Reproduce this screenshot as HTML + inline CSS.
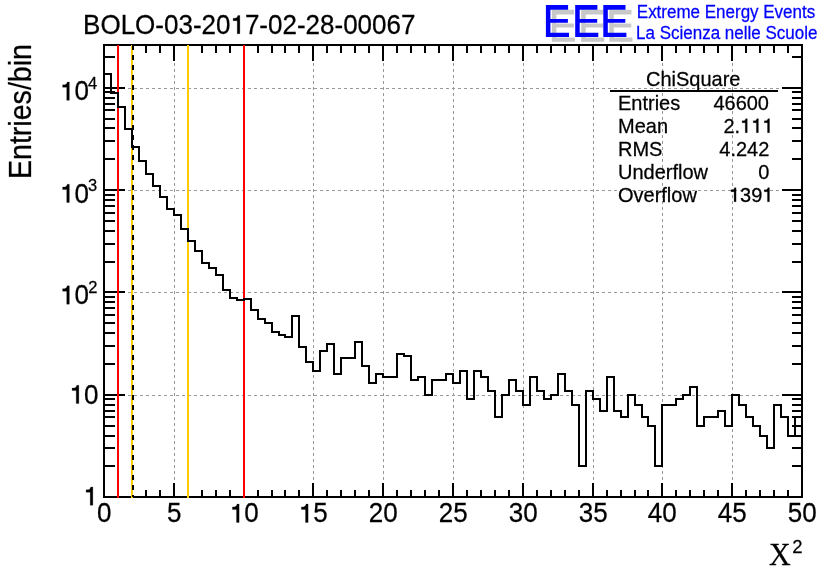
<!DOCTYPE html>
<html><head><meta charset="utf-8"><style>
html,body{margin:0;padding:0;background:#fff;width:836px;height:572px;overflow:hidden}
svg{display:block;will-change:transform}
text{font-family:"Liberation Sans",sans-serif;font-kerning:none;font-variant-ligatures:none;fill:#000;stroke:#000;stroke-width:0.25px;white-space:pre}
path.one{stroke:#000;stroke-width:0.25px;vector-effect:non-scaling-stroke}
</style></head><body>
<svg width="836" height="572" viewBox="0 0 836 572">
<rect width="836" height="572" fill="#fff"/>
<g stroke="#999" stroke-width="1" shape-rendering="crispEdges" stroke-dasharray="3 3"><line x1="174.5" y1="45" x2="174.5" y2="497"/><line x1="244.5" y1="45" x2="244.5" y2="497"/><line x1="313.5" y1="45" x2="313.5" y2="497"/><line x1="383.5" y1="45" x2="383.5" y2="497"/><line x1="453.5" y1="45" x2="453.5" y2="497"/><line x1="523.5" y1="45" x2="523.5" y2="497"/><line x1="593.5" y1="45" x2="593.5" y2="497"/><line x1="662.5" y1="45" x2="662.5" y2="497"/><line x1="732.5" y1="45" x2="732.5" y2="497"/><line x1="104" y1="395.5" x2="802" y2="395.5"/><line x1="104" y1="292.5" x2="802" y2="292.5"/><line x1="104" y1="190.5" x2="802" y2="190.5"/><line x1="104" y1="88.5" x2="802" y2="88.5"/></g>
<rect x="104" y="45" width="698" height="452" fill="none" stroke="#000" stroke-width="2" shape-rendering="crispEdges"/>
<path d="M104,497v-14M104,45v16M118,497v-7M118,45v8M132,497v-7M132,45v8M146,497v-7M146,45v8M160,497v-7M160,45v8M174,497v-14M174,45v16M188,497v-7M188,45v8M202,497v-7M202,45v8M216,497v-7M216,45v8M230,497v-7M230,45v8M244,497v-14M244,45v16M258,497v-7M258,45v8M272,497v-7M272,45v8M285,497v-7M285,45v8M299,497v-7M299,45v8M313,497v-14M313,45v16M327,497v-7M327,45v8M341,497v-7M341,45v8M355,497v-7M355,45v8M369,497v-7M369,45v8M383,497v-14M383,45v16M397,497v-7M397,45v8M411,497v-7M411,45v8M425,497v-7M425,45v8M439,497v-7M439,45v8M453,497v-14M453,45v16M467,497v-7M467,45v8M481,497v-7M481,45v8M495,497v-7M495,45v8M509,497v-7M509,45v8M523,497v-14M523,45v16M537,497v-7M537,45v8M551,497v-7M551,45v8M565,497v-7M565,45v8M579,497v-7M579,45v8M593,497v-14M593,45v16M607,497v-7M607,45v8M621,497v-7M621,45v8M635,497v-7M635,45v8M648,497v-7M648,45v8M662,497v-14M662,45v16M676,497v-7M676,45v8M690,497v-7M690,45v8M704,497v-7M704,45v8M718,497v-7M718,45v8M732,497v-14M732,45v16M746,497v-7M746,45v8M760,497v-7M760,45v8M774,497v-7M774,45v8M788,497v-7M788,45v8M802,497v-14M802,45v16M104,497h21M802,497h-20M104,466h11M802,466h-10M104,448h11M802,448h-10M104,436h11M802,436h-10M104,426h11M802,426h-10M104,417h11M802,417h-10M104,411h11M802,411h-10M104,405h11M802,405h-10M104,399h11M802,399h-10M104,395h21M802,395h-20M104,364h11M802,364h-10M104,346h11M802,346h-10M104,333h11M802,333h-10M104,323h11M802,323h-10M104,315h11M802,315h-10M104,308h11M802,308h-10M104,302h11M802,302h-10M104,297h11M802,297h-10M104,292h21M802,292h-20M104,262h11M802,262h-10M104,244h11M802,244h-10M104,231h11M802,231h-10M104,221h11M802,221h-10M104,213h11M802,213h-10M104,206h11M802,206h-10M104,200h11M802,200h-10M104,195h11M802,195h-10M104,190h21M802,190h-20M104,159h11M802,159h-10M104,141h11M802,141h-10M104,128h11M802,128h-10M104,119h11M802,119h-10M104,110h11M802,110h-10M104,104h11M802,104h-10M104,98h11M802,98h-10M104,92h11M802,92h-10M104,88h21M802,88h-20M104,57h11M802,57h-10" stroke="#000" stroke-width="2" fill="none" shape-rendering="crispEdges"/>
<g stroke-width="2" shape-rendering="crispEdges">
<line x1="118" y1="45" x2="118" y2="498" stroke="#f00"/>
<line x1="132" y1="45" x2="132" y2="498" stroke="#fc0"/>
<line x1="133" y1="45" x2="133" y2="497" stroke="#000" stroke-dasharray="5 5"/>
<line x1="188" y1="45" x2="188" y2="498" stroke="#fc0"/>
<line x1="244" y1="45" x2="244" y2="498" stroke="#f00"/>
</g>
<path d="M104,497 V74 H111 V93 H118 V107 H125 V129 H132 V147 H139 V161 H146 V174 H153 V186 H160 V197 H167 V209 H174 V215 H181 V229 H188 V241 H195 V251 H202 V263 H209 V268 H216 V275 H223 V290 H230 V298 H237 V300 H244 V299 H251 V310 H258 V319 H265 V323 H272 V332 H279 V335 H285 V337 H292 V316 H299 V347 H306 V362 H313 V371 H320 V351 H327 V344 H334 V374 H341 V358 H348 V358 H355 V342 H362 V366 H369 V383 H376 V374 H383 V377 H390 V377 H397 V354 H404 V356 H411 V380 H418 V377 H425 V395 H432 V380 H439 V380 H446 V374 H453 V383 H460 V371 H467 V399 H474 V371 H481 V377 H488 V391 H495 V417 H502 V395 H509 V380 H516 V391 H523 V405 H530 V377 H537 V391 H544 V399 H551 V395 H558 V374 H565 V391 H572 V405 H579 V466 H586 V391 H593 V399 H600 V411 H607 V377 H614 V411 H621 V417 H628 V395 H635 V405 H642 V417 H648 V426 H655 V466 H662 V405 H669 V405 H676 V399 H683 V395 H690 V387 H697 V426 H704 V417 H711 V417 H718 V411 H725 V426 H732 V395 H739 V405 H746 V417 H753 V426 H760 V436 H767 V448 H774 V405 H781 V417 H788 V436 H795 V417 H802 V497" stroke="#000" stroke-width="2" fill="none" shape-rendering="crispEdges"/>
<path fill="#c8c8c8" d="M551.9,9.8h22.2v4.7h-17.70V23.60h17.50V27.50h-17.50V37.40h18.60V41.70h-23.1z"/><path fill="#c8c8c8" d="M581.2,9.8h22.2v4.7h-17.70V23.60h17.50V27.50h-17.50V37.40h18.60V41.70h-23.1z"/><path fill="#c8c8c8" d="M609.3,9.8h22.2v4.7h-17.70V23.60h17.50V27.50h-17.50V37.40h18.60V41.70h-23.1z"/><path fill="#0000ff" d="M545.9,5.1h22.2v4.7h-17.70V18.90h17.50V22.80h-17.50V32.70h18.60V37.00h-23.1z"/><path fill="#0000ff" d="M575.2,5.1h22.2v4.7h-17.70V18.90h17.50V22.80h-17.50V32.70h18.60V37.00h-23.1z"/><path fill="#0000ff" d="M603.3,5.1h22.2v4.7h-17.70V18.90h17.50V22.80h-17.50V32.70h18.60V37.00h-23.1z"/>
<text transform="translate(83.10,33.70) scale(1,1.04)" font-size="26">BOLO-03-20 7-02-28-00067</text><path class="one" transform="translate(83.10,33.70) scale(1,1.04) translate(147.41,0) scale(0.0260,-0.0250)" d="M359,703V0H259V500H101V596H180C228,606 268,640 283,703Z"/><text transform="translate(31.00,179.10) rotate(-90) scale(1,1.075)" font-size="28.6">Entries/bin</text><text transform="translate(97.02,522.40) scale(1,1.04)" font-size="26">0</text><text transform="translate(167.02,522.40) scale(1,1.04)" font-size="26">5</text><text transform="translate(229.79,522.40) scale(1,1.04)" font-size="26"> 0</text><path class="one" transform="translate(229.79,522.40) scale(1,1.04) translate(0.00,0) scale(0.0260,-0.0250)" d="M359,703V0H259V500H101V596H180C228,606 268,640 283,703Z"/><text transform="translate(298.79,522.40) scale(1,1.04)" font-size="26"> 5</text><path class="one" transform="translate(298.79,522.40) scale(1,1.04) translate(0.00,0) scale(0.0260,-0.0250)" d="M359,703V0H259V500H101V596H180C228,606 268,640 283,703Z"/><text transform="translate(368.79,522.40) scale(1,1.04)" font-size="26">20</text><text transform="translate(438.79,522.40) scale(1,1.04)" font-size="26">25</text><text transform="translate(508.79,522.40) scale(1,1.04)" font-size="26">30</text><text transform="translate(578.79,522.40) scale(1,1.04)" font-size="26">35</text><text transform="translate(647.79,522.40) scale(1,1.04)" font-size="26">40</text><text transform="translate(717.79,522.40) scale(1,1.04)" font-size="26">45</text><text transform="translate(787.79,522.40) scale(1,1.04)" font-size="26">50</text><text transform="translate(60.00,100.35) scale(1,1.04)" font-size="26"> 0</text><path class="one" transform="translate(60.00,100.35) scale(1,1.04) translate(0.00,0) scale(0.0260,-0.0250)" d="M359,703V0H259V500H101V596H180C228,606 268,640 283,703Z"/><text transform="translate(88.00,89.00) scale(1,1.04)" font-size="16.5">4</text><text transform="translate(60.00,202.60) scale(1,1.04)" font-size="26"> 0</text><path class="one" transform="translate(60.00,202.60) scale(1,1.04) translate(0.00,0) scale(0.0260,-0.0250)" d="M359,703V0H259V500H101V596H180C228,606 268,640 283,703Z"/><text transform="translate(87.90,191.10) scale(1,1.04)" font-size="16.5">3</text><text transform="translate(60.00,304.15) scale(1,1.04)" font-size="26"> 0</text><path class="one" transform="translate(60.00,304.15) scale(1,1.04) translate(0.00,0) scale(0.0260,-0.0250)" d="M359,703V0H259V500H101V596H180C228,606 268,640 283,703Z"/><text transform="translate(88.20,292.60) scale(1,1.04)" font-size="16.5">2</text><text transform="translate(69.50,403.60) scale(1,1.04)" font-size="26"> 0</text><path class="one" transform="translate(69.50,403.60) scale(1,1.04) translate(0.00,0) scale(0.0260,-0.0250)" d="M359,703V0H259V500H101V596H180C228,606 268,640 283,703Z"/><text transform="translate(83.50,505.30) scale(1,1.04)" font-size="26"> </text><path class="one" transform="translate(83.50,505.30) scale(1,1.04) translate(0.00,0) scale(0.0260,-0.0250)" d="M359,703V0H259V500H101V596H180C228,606 268,640 283,703Z"/><text transform="translate(768.90,565.00) scale(1,1.035)" font-size="30" style="font-family:'Liberation Serif',serif">X</text><text transform="translate(792.20,552.90) scale(1,1.04)" font-size="18.5">2</text><text transform="translate(636.80,17.70) scale(1,1.04)" font-size="17" style="fill:#00f;stroke:#00f">Extreme Energy Events</text><text transform="translate(636.10,38.90) scale(1,1.04)" font-size="17" style="fill:#00f;stroke:#00f">La Scienza nelle Scuole</text><text transform="translate(646.00,86.00) scale(1,1.04)" font-size="20">ChiSquare</text><text transform="translate(618.00,109.70) scale(1,1.04)" font-size="20">Entries</text><text transform="translate(713.40,109.70) scale(1,1.04)" font-size="20">46600</text><text transform="translate(618.00,132.70) scale(1,1.04)" font-size="20">Mean</text><text transform="translate(723.40,132.70) scale(1,1.04)" font-size="20">2.   </text><path class="one" transform="translate(723.40,132.70) scale(1,1.04) translate(16.68,0) scale(0.0200,-0.0192)" d="M359,703V0H259V500H101V596H180C228,606 268,640 283,703Z"/><path class="one" transform="translate(723.40,132.70) scale(1,1.04) translate(27.80,0) scale(0.0200,-0.0192)" d="M359,703V0H259V500H101V596H180C228,606 268,640 283,703Z"/><path class="one" transform="translate(723.40,132.70) scale(1,1.04) translate(38.93,0) scale(0.0200,-0.0192)" d="M359,703V0H259V500H101V596H180C228,606 268,640 283,703Z"/><text transform="translate(618.00,155.70) scale(1,1.04)" font-size="20">RMS</text><text transform="translate(719.30,155.70) scale(1,1.04)" font-size="20">4.242</text><text transform="translate(618.00,178.70) scale(1,1.04)" font-size="20">Underflow</text><text transform="translate(758.30,178.70) scale(1,1.04)" font-size="20">0</text><text transform="translate(618.00,201.70) scale(1,1.04)" font-size="20">Overflow</text><text transform="translate(728.90,201.70) scale(1,1.04)" font-size="20"> 39 </text><path class="one" transform="translate(728.90,201.70) scale(1,1.04) translate(0.00,0) scale(0.0200,-0.0192)" d="M359,703V0H259V500H101V596H180C228,606 268,640 283,703Z"/><path class="one" transform="translate(728.90,201.70) scale(1,1.04) translate(33.37,0) scale(0.0200,-0.0192)" d="M359,703V0H259V500H101V596H180C228,606 268,640 283,703Z"/>
<line x1="610" y1="91" x2="778" y2="91" stroke="#000" stroke-width="2" shape-rendering="crispEdges"/>
</svg>
</body></html>
